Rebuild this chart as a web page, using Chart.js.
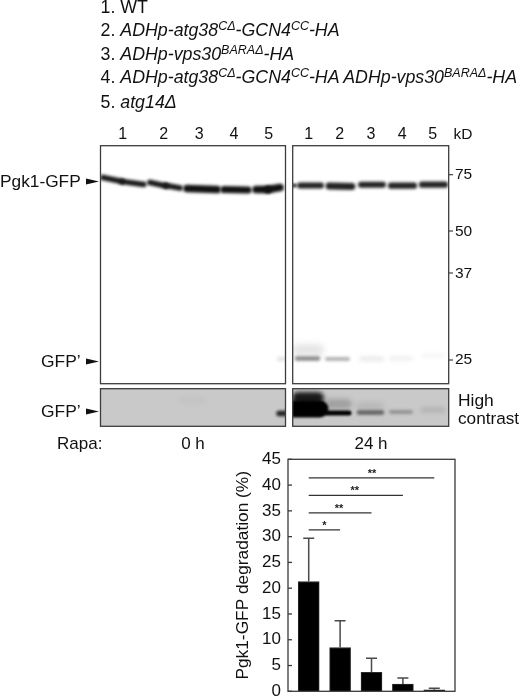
<!DOCTYPE html>
<html><head><meta charset="utf-8">
<script src="https://cdn.jsdelivr.net/npm/chart.js@4"></script>
<style>
html,body{margin:0;padding:0;background:#fff;}
#wrap{position:relative;width:520px;height:698px;overflow:hidden;font-family:"Liberation Sans",Arial,sans-serif;color:#111;}
canvas{position:absolute;left:0;top:0;}
.t{position:absolute;white-space:nowrap;line-height:1;}
.c{transform:translateX(-50%);}
i sup{font-size:12.5px;line-height:0;position:relative;top:1px;vertical-align:super;}
</style></head><body>
<div id="wrap">
<canvas id="c" width="520" height="698"></canvas>
<div id="labels"></div>
</div>
<script>
// ---- chart data ----
const strains = ['1','2','3','4','5'];
const yTickValues = [0,5,10,15,20,25,30,35,40,45];
const degradation = [21.3,8.5,3.7,1.4,0.3];
const errorTop = [29.7,13.7,6.4,2.6,0.6];
const sigFrom = [0,0,0,0];
const sigTo = [1,2,3,4];
const sigLevel = [31.3,34.6,38,41.4];
const sigStars = ['*','**','**','**'];
const axisTitle = 'Pgk1-GFP degradation (%)';

// ---- text ----
const legendLines = [
 '1. WT',
 '2. <i>ADHp-atg38<sup>C\u0394</sup>-GCN4<sup>CC</sup>-HA</i>',
 '3. <i>ADHp-vps30<sup>BARA\u0394</sup>-HA</i>',
 '4. <i>ADHp-atg38<sup>C\u0394</sup>-GCN4<sup>CC</sup>-HA ADHp-vps30<sup>BARA\u0394</sup>-HA</i>',
 '5. <i>atg14\u0394</i>'
];
const legendTops = [-1,22,46,69,94];
const markerLabels = ['75','50','37','25'];

const put=(html,x,y,size,center)=>{const d=document.createElement('div');d.className='t'+(center?' c':'');
 d.style.left=x+'px';d.style.top=y+'px';d.style.fontSize=size+'px';d.innerHTML=html;document.getElementById('labels').appendChild(d);};
legendLines.forEach((l,i)=>put(l,100.5,legendTops[i],17.8));
[122.7,163.7,199.3,234,268.7,308.7,339.7,371,402.3,432.7].forEach((x,i)=>put(strains[i%5],x,125.5,16,true));
put('kD',453.5,126,15.5);
put('Pgk1-GFP',0,173,17.3);
put('GFP\u2019',41,353,17.4);
put('GFP\u2019',41,403,17.4);
[166,223,265,351].forEach((y,i)=>put(markerLabels[i],455,y,15.5));
put('High',458,392,17.4);put('contrast',458,410,17.2);
put('Rapa:',57,435,17);put('0 h',193,435,17,true);put('24 h',371,435,17,true);

// ---- decoration: western-blot panels (layout only, no chart values) ----
const panels=[[100.5,145.7,185,238,'#fff'],[292.7,145.7,156,238,'#fff'],[100.5,388.7,185,37.6,'#c9c9c9'],[292.7,388.7,156,37.6,'#c9c9c9']];
// [panel, x0,y0,x1,y1, thickness, gray, blur]
const bands=[
 [0,103,177.5,122,181.5,5.8,'#181818',1.5],[0,122,181.5,144,184.5,5.4,'#181818',1.5],
 [0,150,182.5,166,186,5.8,'#181818',1.5],[0,166,185.5,180,188,5.8,'#181818',1.5],
 [0,187,188.5,217,189.5,7.6,'#111',1.6],[0,224,189.5,248,190,7.2,'#111',1.6],[0,256,189.5,268,189.5,7.6,'#111',1.6],[0,268,189.5,280,187.5,7.6,'#111',1.6],
 [1,293,185.5,295,185.5,4,'#444',1.2],
 [1,300,185.5,321,185.5,6,'#222',1.6],[1,329,186,352,186.5,6.8,'#222',1.6],[1,361,184.7,383,184.7,6,'#222',1.6],[1,391,185.7,414,185.7,6.2,'#222',1.6],[1,422,184.7,445,184.7,6.2,'#222',1.6],
 [1,298,350,318,350,12,'rgba(0,0,0,.1)',3],
 [1,297,358.5,318,358.5,4.6,'#8a8a8a',1.7],[1,327,359,348,359,4,'#b4b4b4',1.8],[1,361,358.8,382,358.8,4,'#e6e6e6',2.2],[1,391,358.5,411,358.5,4,'#eeeeee',2.2],[1,424,355.5,443,355.5,4,'#f5f5f5',2.2],
 [0,279,359,285,359,5,'#e8e8e8',1.8],
 [2,279,413.5,288,413.5,5.5,'#222',1.8],[2,182,401,203,401,5,'#c2c2c2',2],
 [3,298,398,318,398,12,'#1a1a1a',2],[3,294,409,320,409,17,'#000',1.3],
 [3,329,404,347,404,10,'rgba(0,0,0,.2)',2.5],[3,327,413,349,413,5,'#000',1.3],
 [3,360,406,380,406,8,'rgba(0,0,0,.08)',2.5],[3,359,412.5,382,412.5,4.4,'#606060',1.7],
 [3,391,412,411,412,3.8,'#929292',1.8],[3,423,410,443,410,5,'#b2b2b2',2.1]
];
const ticksRight=[174.7,231,273,360];
const arrows=[[86,181.5],[86,361.5],[86,411.5]];

const blotPlugin={id:'blot',beforeDraw(ch){
 const g=ch.ctx;g.save();
 panels.forEach((p,pi)=>{
  g.fillStyle=p[4];g.fillRect(p[0],p[1],p[2],p[3]);
  g.save();g.beginPath();g.rect(p[0],p[1],p[2],p[3]);g.clip();
  bands.filter(b=>b[0]===pi).forEach(b=>{
   g.filter='blur('+b[7]+'px)';g.strokeStyle=b[6];g.lineWidth=b[5];g.lineCap='round';
   g.beginPath();g.moveTo(b[1],b[2]);g.lineTo(b[3],b[4]);g.stroke();});
  g.restore();g.filter='none';
 });
 g.strokeStyle='#3c3c3c';g.lineWidth=1.3;
 panels.forEach(p=>g.strokeRect(p[0],p[1],p[2],p[3]));
 g.fillStyle='#111';
 arrows.forEach(a=>{g.beginPath();g.moveTo(a[0],a[1]-3);g.lineTo(a[0]+13,a[1]);g.lineTo(a[0],a[1]+3);g.closePath();g.fill();});
 g.strokeStyle='#333';g.lineWidth=1.1;
 ticksRight.forEach(y=>{g.beginPath();g.moveTo(449,y);g.lineTo(453,y);g.stroke();});
 g.restore();
}};

// ---- frame, error bars, significance lines: all through the chart's scales ----
const overlayPlugin={id:'overlay',afterDatasetsDraw(ch){
 const g=ch.ctx,a=ch.chartArea,xs=ch.scales.x,ys=ch.scales.y;g.save();
 g.strokeStyle='#3a3a3a';g.lineWidth=1.3;g.strokeRect(a.left,a.top,a.right-a.left,a.bottom-a.top);
 yTickValues.forEach(v=>{const y=ys.getPixelForValue(v);g.beginPath();g.moveTo(a.left,y);g.lineTo(a.left+4,y);g.stroke();});
 g.strokeStyle='#4a4a4a';g.lineWidth=1.5;
 errorTop.forEach((e,i)=>{const x=xs.getPixelForValue(i),y0=ys.getPixelForValue(degradation[i]),y1=ys.getPixelForValue(e);
  g.beginPath();g.moveTo(x,y0);g.lineTo(x,y1);g.moveTo(x-5.5,y1);g.lineTo(x+5.5,y1);g.stroke();});
 g.strokeStyle='#333';g.lineWidth=1.2;g.fillStyle='#222';g.textAlign='center';g.textBaseline='middle';g.font='bold 11px "Liberation Sans"';
 sigLevel.forEach((v,i)=>{const x0=xs.getPixelForValue(sigFrom[i]),x1=xs.getPixelForValue(sigTo[i]),y=ys.getPixelForValue(v);
  g.beginPath();g.moveTo(x0,y);g.lineTo(x1,y);g.stroke();
  g.fillText(sigStars[i],(x0+x1)/2-(i===3?-0.5:i===2?1:i===1?1:0),y-4);});
 g.restore();
}};

new Chart(document.getElementById('c'),{
 type:'bar',
 data:{datasets:[{data:degradation.map((v,i)=>({x:i,y:v})),backgroundColor:'#000',borderColor:'#2a2a2a',borderWidth:1,barThickness:21}]},
 plugins:[blotPlugin,overlayPlugin],
 options:{responsive:false,animation:false,devicePixelRatio:1,
  layout:{padding:{left:220,top:459.3,right:65,bottom:6.7}},
  plugins:{legend:{display:false},tooltip:{enabled:false}},
  scales:{
   x:{type:'linear',offset:false,min:-0.66,max:4.66,display:false},
   y:{min:0,max:45,afterBuildTicks(s){s.ticks=yTickValues.map(v=>({value:v}));},afterFit(s){s.width=68;s.paddingTop=0;s.paddingBottom=0;},
    grid:{display:false,drawTicks:false},border:{display:false},
    ticks:{color:'#111',padding:7,font:{family:'"Liberation Sans"',size:17},autoSkip:false,callback:v=>String(v)},
    title:{display:true,text:axisTitle,color:'#111',font:{family:'"Liberation Sans"',size:17.3},padding:{top:13,bottom:0}}}
  }
 }
});
</script>
</body></html>
